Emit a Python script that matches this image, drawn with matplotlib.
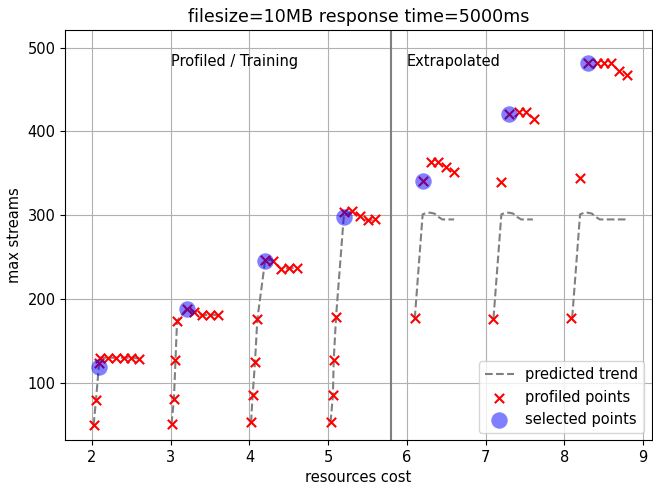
import numpy as np
import matplotlib
matplotlib.use('Agg')
import matplotlib.pyplot as plt

plt.rcParams['font.size'] = 10.5

# profiled points, one list per cpu setting
prof_x = [
    [2.02, 2.05, 2.09, 2.1, 2.2, 2.3, 2.4, 2.5, 2.6],
    [3.01, 3.04, 3.06, 3.08, 3.2, 3.3, 3.4, 3.5, 3.6],
    [4.02, 4.04, 4.07, 4.1, 4.2, 4.3, 4.4, 4.5, 4.6],
    [5.03, 5.06, 5.07, 5.1, 5.2, 5.3, 5.4, 5.5, 5.6],
    [6.1, 6.2, 6.31, 6.4, 6.5, 6.6],
    [7.1, 7.2, 7.3, 7.42, 7.51, 7.61],
    [8.09, 8.2, 8.3, 8.41, 8.5, 8.59, 8.69, 8.79],
]
prof_y = [
    [50, 80, 124, 130, 130, 130, 130, 130, 129],
    [51, 81, 127, 174, 188, 184, 181, 181, 181],
    [53, 85, 125, 176, 247, 246, 236, 237, 237],
    [53, 85, 127, 179, 304, 305, 299, 294, 295],
    [177, 341, 363, 363, 357, 351],
    [176, 340, 421, 423, 423, 415],
    [178, 344, 482, 481, 481, 481, 472, 467],
]

# predicted trend
trend_x = [
    [2.02, 2.05, 2.09, 2.1, 2.2, 2.3, 2.4, 2.5, 2.6],
    [3.01, 3.04, 3.06, 3.08, 3.2, 3.3, 3.4, 3.5, 3.6],
    [4.02, 4.04, 4.07, 4.1, 4.2, 4.3, 4.4, 4.5, 4.6],
    [5.03, 5.06, 5.07, 5.1, 5.2, 5.3, 5.4, 5.5, 5.6],
    [6.1, 6.2, 6.25, 6.3, 6.35, 6.4, 6.45, 6.5, 6.6],
    [7.1, 7.2, 7.25, 7.3, 7.35, 7.4, 7.45, 7.5, 7.6],
    [8.1, 8.2, 8.25, 8.3, 8.35, 8.4, 8.45, 8.5, 8.6, 8.7, 8.8],
]
trend_y = [
    [50, 80, 124, 130, 130, 130, 130, 130, 129],
    [51, 81, 127, 174, 188, 184, 181, 181, 181],
    [53, 85, 125, 176, 247, 246, 236, 237, 237],
    [53, 85, 127, 179, 301, 304, 299, 294, 295],
    [177, 301, 303, 303, 302, 298, 295, 295, 295],
    [177, 301, 303, 303, 302, 298, 295, 295, 295],
    [178, 301, 303, 303, 302, 298, 295, 295, 295, 295, 295],
]

sel_x = [2.09, 3.2, 4.2, 5.2, 6.2, 7.3, 8.3]
sel_y = [119, 188, 246, 298, 341, 421, 482]

fig, ax = plt.subplots(figsize=(6.53, 4.91), dpi=100)
fig.subplots_adjust(left=0.1, right=0.998, top=0.939, bottom=0.104)

for i in range(len(trend_x)):
    ax.plot(trend_x[i], trend_y[i], '--', color='grey', linewidth=1.5,
            label='predicted trend' if i == 0 else None, zorder=2)

px = np.concatenate([np.array(v) for v in prof_x])
py = np.concatenate([np.array(v) for v in prof_y])
ax.scatter(px, py, marker='x', color='red', s=45, linewidths=1.5,
           label='profiled points', zorder=3)
ax.scatter(sel_x, sel_y, marker='o', color='blue', alpha=0.5, s=140,
           linewidths=0, label='selected points', zorder=4)

ax.axvline(5.8, color='grey', linewidth=1.5)
ax.text(3.0, 478, 'Profiled / Training', va='baseline')
ax.text(6.0, 478, 'Extrapolated', va='baseline')

ax.set_xlim(1.66, 9.11)
ax.set_ylim(32, 521)
ax.set_title('filesize=10MB response time=5000ms', fontsize=12.6)
ax.set_xlabel('resources cost')
ax.set_ylabel('max streams')
ax.grid(True)
ax.legend(loc='lower right')

fig.savefig('out.png')
